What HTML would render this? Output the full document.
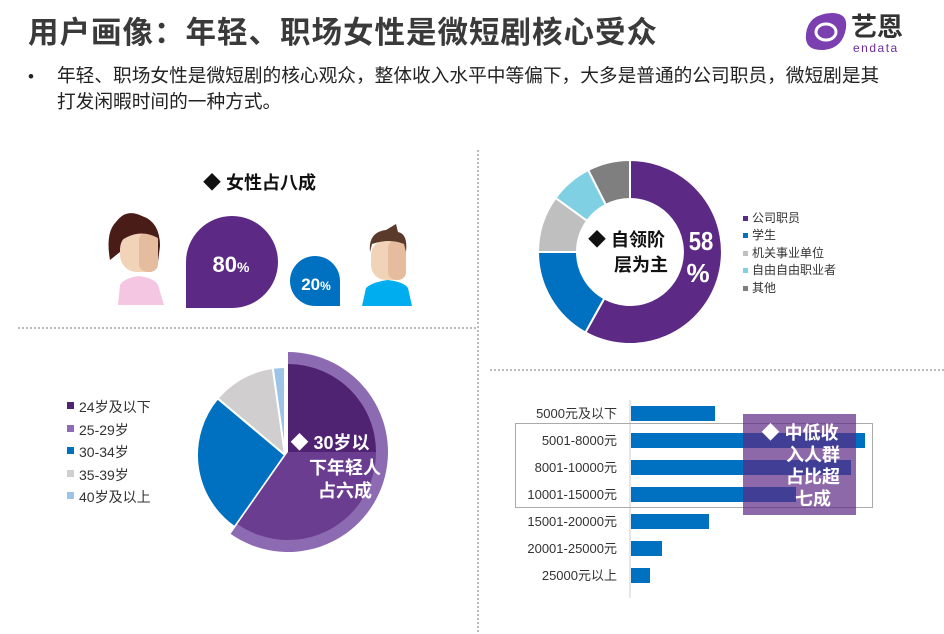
<!DOCTYPE html>
<html><head><meta charset="utf-8"><style>
body{margin:0;background:#fff;}
svg{display:block;font-family:"Liberation Sans","Noto Sans CJK SC",sans-serif;}
</style></head><body>
<svg width="944" height="634" viewBox="0 0 944 634">
<text x="28" y="43" font-size="30.5" font-weight="bold" fill="#3a3a3a" letter-spacing="1">用户画像：年轻、职场女性是微短剧核心受众</text>
<!-- logo -->
<path d="M806 34 Q808 14 832 13 Q848 13 846 28 Q843 48 824 50 Q804 51 806 34Z" fill="#7b3fb0"/>
<ellipse cx="826" cy="32" rx="10" ry="8" fill="none" stroke="#fff" stroke-width="3"/>
<text x="851" y="36" font-size="26" font-weight="bold" fill="#333">艺恩</text>
<text x="853" y="52" font-size="12" fill="#6a2c9a" letter-spacing="1.5">endata</text>
<text x="28" y="82" font-size="17" fill="#222">•</text>
<text x="57" y="82" font-size="18.7" fill="#222">年轻、职场女性是微短剧的核心观众，整体收入水平中等偏下，大多是普通的公司职员，微短剧是其</text>
<text x="57" y="108" font-size="18.7" fill="#222">打发闲暇时间的一种方式。</text>
<!-- separators -->
<g stroke="#bbb" stroke-width="2" stroke-dasharray="2,2">
<line x1="478" y1="150" x2="478" y2="634"/>
<line x1="18" y1="328" x2="476" y2="328"/>
<line x1="490" y1="370" x2="944" y2="370"/>
</g>
<!-- gender -->
<text x="203" y="189" font-size="18" font-weight="bold" fill="#111">◆  女性占八成</text>
<!-- woman -->
<path d="M116 222 Q126 208 142 216 Q160 222 160 246 L158 262 L122 262 Z" fill="#4a1c17"/>
<path d="M122 218 Q104 226 110 260 L120 252Z" fill="#4a1c17"/>
<rect x="120" y="232" width="38" height="40" rx="17" fill="#f1d4b8"/>
<rect x="139" y="232" width="19" height="40" rx="8" fill="#e6bc9f"/>
<path d="M120 246 Q126 226 140 226 Q158 226 160 246 L158 238 Q140 228 122 240Z" fill="#4a1c17"/>
<path d="M118 305 L120 285 Q124 278 139 276 Q154 278 158 285 L164 305Z" fill="#f4c6e1"/>
<!-- 80% -->
<path d="M186 308 L186 262 A46 46 0 1 1 232 308 Z" fill="#5c2a84"/>
<text x="231" y="272" font-size="22" font-weight="bold" fill="#fff" text-anchor="middle">80<tspan font-size="14">%</tspan></text>
<!-- 20% -->
<path d="M340 306 L340 281 A25 25 0 1 0 315 306 Z" fill="#0070c0"/>
<text x="316" y="290" font-size="17" font-weight="bold" fill="#fff" text-anchor="middle">20<tspan font-size="12">%</tspan></text>
<!-- man -->
<rect x="371" y="240" width="35" height="40" rx="15" fill="#f1d4b8"/>
<rect x="388" y="240" width="18" height="40" rx="8" fill="#e6bc9f"/>
<path d="M370 252 Q368 232 386 230 L396 224 L398 232 Q408 234 406 252 L404 244 Q390 238 372 244Z" fill="#5a3a2a"/>
<path d="M362 306 L366 288 Q372 282 388 280 Q404 282 408 288 L412 306Z" fill="#00aeef"/>
<!-- donut -->
<g stroke="#fff" stroke-width="2">
<path d="M630 160 A92 92 0 1 1 585.4 332.5 L604.3 298.4 A53 53 0 1 0 630 199Z" fill="#5c2a84"/>
<path d="M585.4 332.5 A92 92 0 0 1 538 252 L577 252 A53 53 0 0 0 604.3 298.4Z" fill="#0070c0"/>
<path d="M538 252 A92 92 0 0 1 555.6 197.9 L587.1 220.8 A53 53 0 0 0 577 252Z" fill="#bfbfbf"/>
<path d="M555.6 197.9 A92 92 0 0 1 588.2 170 L605.9 204.8 A53 53 0 0 0 587.1 220.8Z" fill="#7ed0e2"/>
<path d="M588.2 170 A92 92 0 0 1 630 160 L630 199 A53 53 0 0 0 605.9 204.8Z" fill="#7f7f7f"/>
</g>
<text x="588" y="246" font-size="18" font-weight="bold" fill="#111">◆  自领阶</text>
<text x="614" y="271" font-size="18" font-weight="bold" fill="#111">层为主</text>
<text x="701" y="250" font-size="26" font-weight="bold" fill="#fff" text-anchor="middle" transform="translate(701 0) scale(0.85 1) translate(-701 0)">58</text>
<text x="698" y="282" font-size="26" font-weight="bold" fill="#fff" text-anchor="middle">%</text>
<g font-size="12" fill="#333">
<rect x="743" y="216" width="5" height="5" fill="#5c2a84"/><text x="752" y="222">公司职员</text>
<rect x="743" y="233" width="5" height="5" fill="#0070c0"/><text x="752" y="239">学生</text>
<rect x="743" y="251" width="5" height="5" fill="#bfbfbf"/><text x="752" y="257">机关事业单位</text>
<rect x="743" y="268" width="5" height="5" fill="#7ed0e2"/><text x="752" y="274">自由自由职业者</text>
<rect x="743" y="286" width="5" height="5" fill="#7f7f7f"/><text x="752" y="292">其他</text>
</g>
<!-- pie -->
<g font-size="14" fill="#333">
<rect x="67" y="402" width="7" height="7" fill="#4f2272"/><text x="79" y="412">24岁及以下</text>
<rect x="67" y="425" width="7" height="7" fill="#8e6bb5"/><text x="79" y="435">25-29岁</text>
<rect x="67" y="447" width="7" height="7" fill="#0070c0"/><text x="79" y="457">30-34岁</text>
<rect x="67" y="470" width="7" height="7" fill="#d0cece"/><text x="79" y="480">35-39岁</text>
<rect x="67" y="492" width="7" height="7" fill="#9dc3e6"/><text x="79" y="502">40岁及以上</text>
</g>
<g stroke="#fff" stroke-width="2">
<path d="M285 455 L234.5 527.1 A88 88 0 0 1 217.6 398.4Z" fill="#0070c0"/>
<path d="M285 455 L217.6 398.4 A88 88 0 0 1 272.8 367.9Z" fill="#d0cece"/>
<path d="M285 455 L272.8 367.9 A88 88 0 0 1 285 367Z" fill="#9dc3e6"/>
</g>
<path d="M288 452 L288 352 A100 100 0 1 1 230.6 533.9Z" fill="#8c6bb3"/>
<path d="M288 452 L288 364 A88 88 0 0 1 376 452Z" fill="#4f2272"/>
<path d="M288 452 L376 452 A88 88 0 0 1 237.5 524.1Z" fill="#6b3d91"/>
<g font-size="18" font-weight="bold" fill="#fff" text-anchor="middle">
<text x="330" y="449">◆  30岁以</text>
<text x="345" y="474">下年轻人</text>
<text x="345" y="497">占六成</text>
</g>
<!-- bars -->
<line x1="630" y1="400" x2="630" y2="598" stroke="#ccc"/>
<g fill="#0070c0">
<rect x="631" y="406" width="84" height="15"/>
<rect x="631" y="433" width="234" height="15"/>
<rect x="631" y="460" width="220" height="15"/>
<rect x="631" y="487" width="165" height="15"/>
<rect x="631" y="514" width="78" height="15"/>
<rect x="631" y="541" width="31" height="15"/>
<rect x="631" y="568" width="19" height="15"/>
</g>
<g font-size="13" fill="#333" text-anchor="end">
<text x="617" y="418">5000元及以下</text>
<text x="617" y="445">5001-8000元</text>
<text x="617" y="472">8001-10000元</text>
<text x="617" y="499">10001-15000元</text>
<text x="617" y="526">15001-20000元</text>
<text x="617" y="553">20001-25000元</text>
<text x="617" y="580">25000元以上</text>
</g>
<rect x="515.5" y="423.5" width="357" height="84" fill="none" stroke="#aaa" stroke-width="1"/>
<rect x="743" y="414" width="113" height="101" fill="#5c2a84" fill-opacity="0.7"/>
<g font-size="18" font-weight="bold" fill="#fff" text-anchor="middle">
<text x="800" y="439">◆  中低收</text>
<text x="813" y="461">入人群</text>
<text x="813" y="483">占比超</text>
<text x="813" y="505">七成</text>
</g>
</svg>
</body></html>
